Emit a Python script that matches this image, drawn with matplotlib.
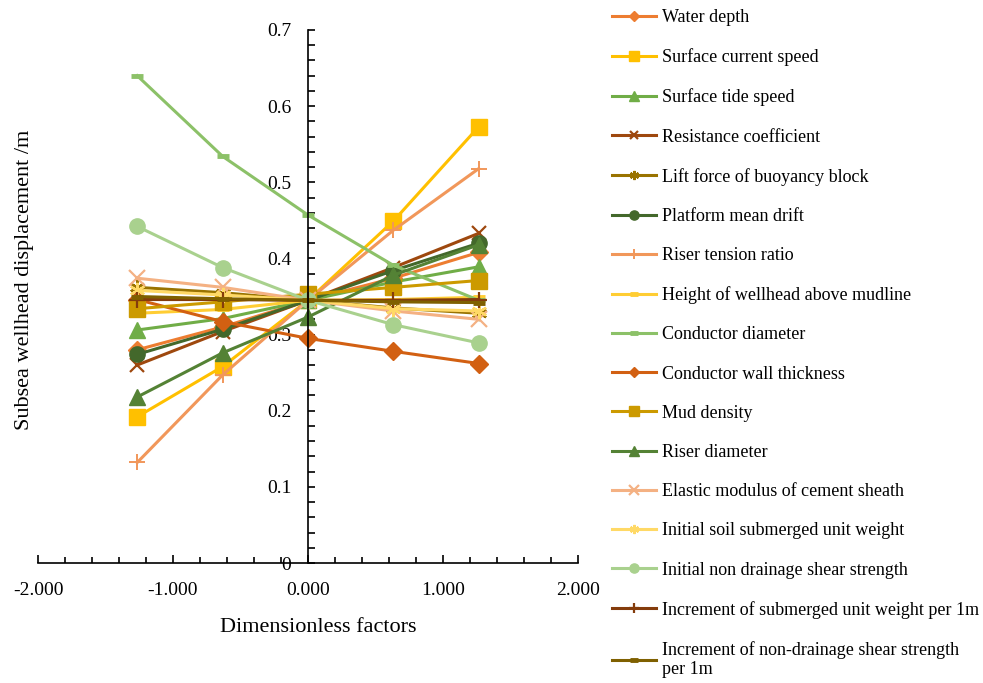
import matplotlib
matplotlib.use("Agg")
import matplotlib.pyplot as plt
from matplotlib.ticker import MultipleLocator, FormatStrFormatter, FuncFormatter

plt.rcParams['font.family'] = ['Liberation Serif', 'DejaVu Serif']

x_factors = [-1.265, -0.632, 0.0, 0.632, 1.265]

labels = [
    "Water depth",
    "Surface current speed",
    "Surface tide speed",
    "Resistance coefficient",
    "Lift force of buoyancy block",
    "Platform mean drift",
    "Riser tension ratio",
    "Height of wellhead above mudline",
    "Conductor diameter",
    "Conductor wall thickness",
    "Mud density",
    "Riser diameter",
    "Elastic modulus of cement sheath",
    "Initial soil submerged unit weight",
    "Initial non drainage shear strength",
    "Increment of submerged unit weight per 1m",
    "Increment of non-drainage shear strength\nper 1m",
]

water_depth = [0.280, 0.310, 0.345, 0.374, 0.408]
surface_current = [0.192, 0.258, 0.345, 0.449, 0.573]
surface_tide = [0.306, 0.321, 0.345, 0.369, 0.389]
resistance = [0.260, 0.304, 0.345, 0.388, 0.433]
lift_force = [0.362, 0.355, 0.345, 0.335, 0.328]
platform_drift = [0.274, 0.307, 0.345, 0.384, 0.420]
riser_tension = [0.132, 0.247, 0.345, 0.437, 0.518]
wellhead_height = [0.328, 0.333, 0.345, 0.346, 0.349]
conductor_diameter = [0.640, 0.534, 0.457, 0.391, 0.345]
conductor_wall = [0.346, 0.317, 0.295, 0.278, 0.262]
mud_density = [0.334, 0.343, 0.353, 0.362, 0.371]
riser_diameter = [0.218, 0.276, 0.323, 0.378, 0.418]
elastic_modulus = [0.374, 0.362, 0.345, 0.331, 0.320]
soil_unit_weight = [0.358, 0.352, 0.345, 0.334, 0.331]
shear_strength = [0.442, 0.388, 0.345, 0.313, 0.289]
inc_unit_weight = [0.346, 0.346, 0.345, 0.345, 0.346]
inc_shear_strength = [0.350, 0.347, 0.345, 0.343, 0.342]

series = [water_depth, surface_current, surface_tide, resistance, lift_force,
          platform_drift, riser_tension, wellhead_height, conductor_diameter,
          conductor_wall, mud_density, riser_diameter, elastic_modulus,
          soil_unit_weight, shear_strength, inc_unit_weight, inc_shear_strength]

colors = ["#ED7D31", "#FFC000", "#70AD47", "#9E480E", "#997300", "#43682B",
          "#F1975A", "#FFCD33", "#8CC168", "#D26012", "#CC9A00", "#548235",
          "#F4B183", "#FFD966", "#A9D18E", "#843C0C", "#7F6000"]

# marker, size, edge width
styles = [("D", 9, 1), ("s", 12, 1), ("^", 11, 1), ("x", 10, 1.6), ((6, 2, 0), 11, 1.6),
          ("o", 11, 1), ("+", 12, 1.4), ("_", 9, 3.5), ("_", 9, 3.5),
          ("D", 9, 1), ("s", 12, 1), ("^", 11, 1), ("x", 11, 1.6), ((6, 2, 0), 11, 1.6),
          ("o", 11, 1), ("+", 12, 1.6), ("_", 9, 3.5)]

fig = plt.figure(figsize=(9.83, 6.83), dpi=100)
ax = fig.add_axes([38 / 983, 1 - 563 / 683, 540 / 983, 533 / 683])

for ys, lab, c, (m, ms, mew) in zip(series, labels, colors, styles):
    ax.plot(x_factors, ys, color=c, lw=2.2, marker=m, ms=ms, mew=mew,
            mec=c, mfc=c, label=lab)

ax.set_xlim(-2, 2)
ax.set_ylim(0, 0.7)

ax.spines['left'].set_position(('data', 0))
ax.spines['right'].set_visible(False)
ax.spines['top'].set_visible(False)
for s in ('left', 'bottom'):
    ax.spines[s].set_linewidth(1.2)

ax.xaxis.set_major_locator(MultipleLocator(1.0))
ax.xaxis.set_minor_locator(MultipleLocator(0.2))
ax.yaxis.set_major_locator(MultipleLocator(0.1))
ax.yaxis.set_minor_locator(MultipleLocator(0.02))
ax.xaxis.set_major_formatter(FormatStrFormatter('%.3f'))
ax.yaxis.set_major_formatter(FuncFormatter(lambda v, p: '0' if abs(v) < 1e-9 else f'{v:.1f}'))

ax.tick_params(axis='x', which='major', direction='in', length=6, width=1.2, labelsize=14, pad=14)
ax.tick_params(axis='x', which='minor', direction='in', length=4, width=1.2)
ax.tick_params(axis='y', which='major', direction='in', length=5, width=1.2, labelsize=14, pad=12)
ax.tick_params(axis='y', which='minor', direction='in', length=5, width=1.2)

ax.set_xlabel("Dimensionless factors", fontsize=16)
ax.xaxis.set_label_coords((318 - 38) / 540, (563 - 618) / 533)
ax.set_ylabel("Subsea wellhead displacement /m", fontsize=16)
ax.yaxis.set_label_coords((34 - 38) / 540, (563 - 280) / 533)

leg = fig.legend(loc='upper left', bbox_to_anchor=(605 / 983, 1 - 2 / 683),
                 frameon=False, fontsize=13, markerscale=0.6, handlelength=2.4,
                 handletextpad=0.35, labelspacing=1.23, borderaxespad=0)

fig.savefig("out.png", dpi=100)
